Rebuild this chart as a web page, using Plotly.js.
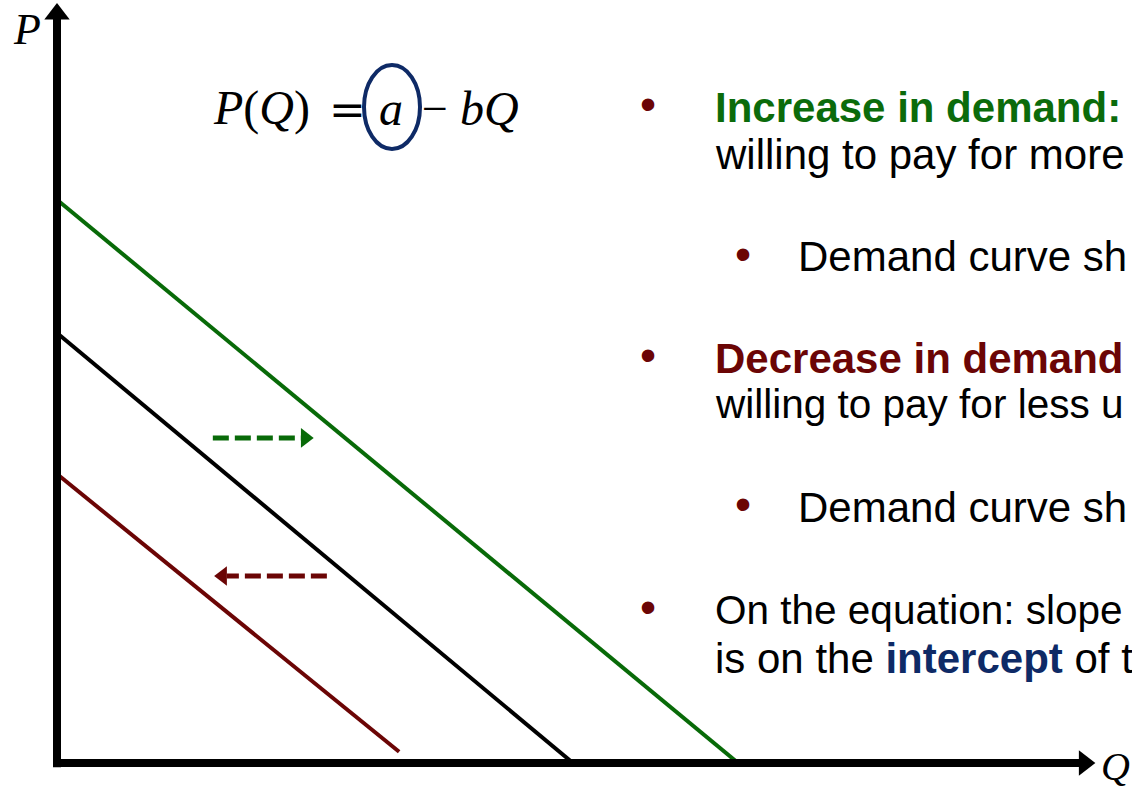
<!DOCTYPE html>
<html>
<head>
<meta charset="utf-8">
<script src="https://cdn.plot.ly/plotly-3.0.1.min.js"></script>
<style>html,body{margin:0;padding:0;background:#fff;}#chart{width:1132px;height:790px;}</style>
</head>
<body>
<div id="chart"></div>
<script>
// ---- data ----
const curveNames = ['Increase in demand', 'Original demand', 'Decrease in demand'];
const curveColors = ['#086a08', '#000000', '#6b0505'];
const interceptP = [13.1, 10.0, 6.72];   // price where each curve meets P axis
const endQ = [13.2, 10.0, 6.63];        // quantity at curve end
const endP = [0, 0, 0.26];              // price at curve end

const axisTopP = 17.42;                 // P axis arrow position
const axisEndQ = 19.91;                 // Q axis arrow position

const shiftRightQ = [3.02, 4.73];       // green dashed arrow (from, to)
const shiftRightP = 7.56;
const shiftLeftQ = [5.23, 3.29];        // red dashed arrow (from, to)
const shiftLeftP = 4.35;

const bulletLines = [
  {text: '<b>Increase in demand:</b>', color: '#0b6b0b', level: 0, bullet: true, y: 121, size: 42},
  {text: 'willing to pay for more', color: '#000000', level: 0, bullet: false, y: 168, size: 42},
  {text: 'Demand curve sh', color: '#000000', level: 1, bullet: true, y: 271, size: 42},
  {text: '<b>Decrease in demand</b>', color: '#6b0505', level: 0, bullet: true, y: 372, size: 42},
  {text: 'willing to pay for less u', color: '#000000', level: 0, bullet: false, y: 418, size: 40.5},
  {text: 'Demand curve sh', color: '#000000', level: 1, bullet: true, y: 521, size: 42},
  {text: 'On the equation: slope', color: '#000000', level: 0, bullet: true, y: 624, size: 40.5},
  {text: 'is on the <b><span style="color:#0e2a66">intercept</span></b> of t', color: '#000000', level: 0, bullet: false, y: 672, size: 42}
];

// ---- geometry ----
const W = 1132, H = 790;
const QPX = 51.6, PPX = 43;   // pixels per unit
const X0 = 57, Y0 = 763;      // pixel position of origin
const xp = px => px / W;
const yp = py => 1 - py / H;

const traces = [];
for (let i = 0; i < curveNames.length; i++) {
  traces.push({
    type: 'scatter', mode: 'lines', name: curveNames[i],
    x: [0, endQ[i]], y: [interceptP[i], endP[i]],
    line: {color: curveColors[i], width: 4}, hoverinfo: 'skip'
  });
}
// axes
traces.push({type: 'scatter', mode: 'lines', x: [0, 0], y: [-0.1, axisTopP - 0.1],
  line: {color: '#000', width: 8}, hoverinfo: 'skip'});
traces.push({type: 'scatter', mode: 'lines', x: [0, axisEndQ - 0.1], y: [0, 0],
  line: {color: '#000', width: 8}, hoverinfo: 'skip'});
traces.push({type: 'scatter', mode: 'markers', x: [0], y: [axisTopP], cliponaxis: false,
  marker: {symbol: 'triangle-up', size: 22, color: '#000'}, hoverinfo: 'skip'});
traces.push({type: 'scatter', mode: 'markers', x: [axisEndQ], y: [0], cliponaxis: false,
  marker: {symbol: 'triangle-right', size: 22, color: '#000'}, hoverinfo: 'skip'});
// shift arrows
traces.push({type: 'scatter', mode: 'lines', x: shiftRightQ, y: [shiftRightP, shiftRightP],
  line: {color: '#086a08', width: 5, dash: '16px,6px'}, hoverinfo: 'skip'});
traces.push({type: 'scatter', mode: 'markers', x: [shiftRightQ[1] + 0.08], y: [shiftRightP],
  marker: {symbol: 'triangle-right', size: 17, color: '#086a08'}, hoverinfo: 'skip'});
traces.push({type: 'scatter', mode: 'lines', x: shiftLeftQ, y: [shiftLeftP, shiftLeftP],
  line: {color: '#6b0505', width: 5, dash: '16px,6px'}, hoverinfo: 'skip'});
traces.push({type: 'scatter', mode: 'markers', x: [shiftLeftQ[1] - 0.08], y: [shiftLeftP],
  marker: {symbol: 'triangle-left', size: 17, color: '#6b0505'}, hoverinfo: 'skip'});

const annotations = [];
const serif = 'Liberation Serif, DejaVu Serif, serif';
const dserif = 'DejaVu Serif, serif';
const sans = 'Liberation Sans, Arial, sans-serif';
function ann(text, x, y, size, family, color, xanchor) {
  annotations.push({text: text, x: xp(x), y: yp(y), xref: 'paper', yref: 'paper',
    xanchor: xanchor || 'center', yanchor: 'middle', showarrow: false,
    font: {size: size, family: family, color: color || '#000'}});
}
// axis labels
ann('<i>P</i>', 27, 30, 44, serif);
ann('<i>Q</i>', 1099, 766, 40, serif, '#000', 'left');
// equation
ann('<i>P</i>(<i>Q</i>)', 261, 108, 48, serif);
ann('=', 347, 110, 44, dserif);
ann('<i>a</i>', 391, 108, 48, serif);
ann('−', 435, 108, 46, serif);
ann('<i>bQ</i>', 489, 108, 48, serif);
// bullets
bulletLines.forEach(l => {
  const tx = l.level === 0 ? 713 : 796;
  const bx = l.level === 0 ? 648 : 743;
  ann(l.text, tx, l.y - 14, l.size, sans, l.color, 'left');
  if (l.bullet) ann('•', bx, l.y - 17, 46, sans, '#6b0505');
});

const layout = {
  width: W, height: H,
  margin: {l: 0, r: 0, t: 0, b: 0},
  paper_bgcolor: '#fff', plot_bgcolor: '#fff',
  showlegend: false,
  xaxis: {range: [-X0 / QPX, (W - X0) / QPX], visible: false, fixedrange: true},
  yaxis: {range: [-(H - Y0) / PPX, Y0 / PPX], visible: false, fixedrange: true},
  shapes: [{type: 'circle', xref: 'paper', yref: 'paper',
    x0: xp(364), x1: xp(420), y0: yp(149), y1: yp(65),
    line: {color: '#0e2a66', width: 4}}],
  annotations: annotations
};

Plotly.newPlot('chart', traces, layout, {displayModeBar: false, staticPlot: true});
</script>
</body>
</html>
